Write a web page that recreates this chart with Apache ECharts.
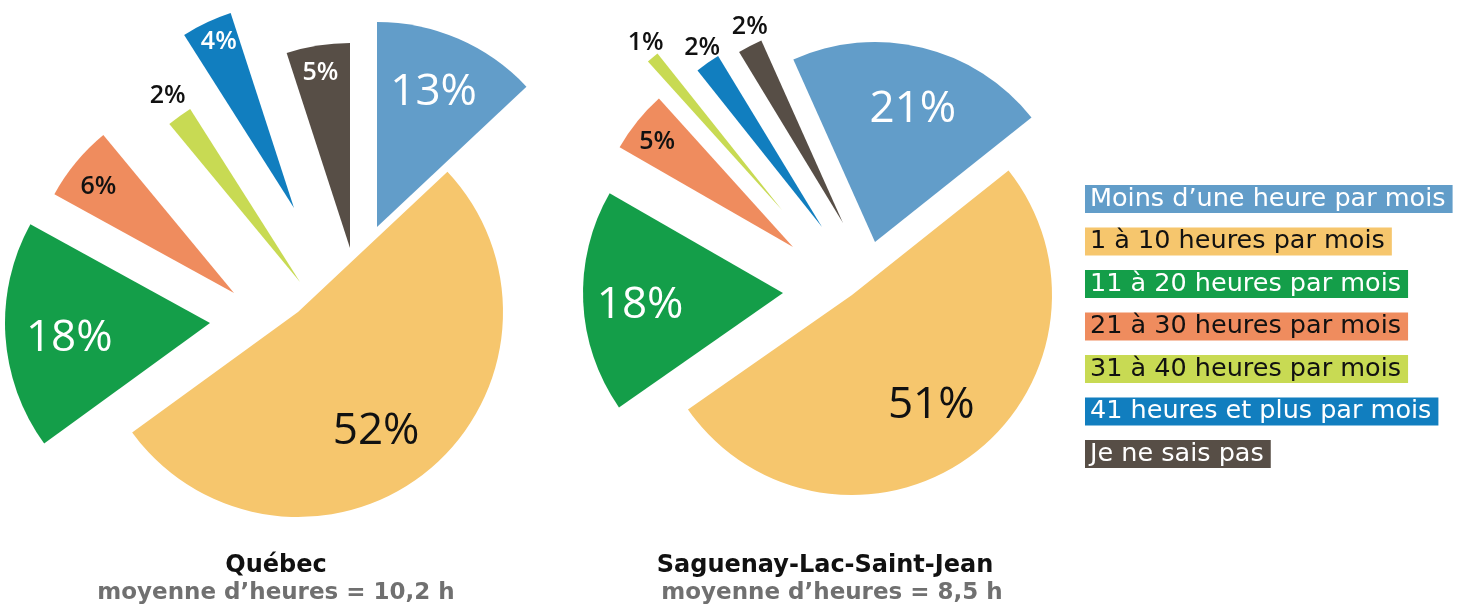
<!DOCTYPE html>
<html>
<head>
<meta charset="utf-8">
<script src="https://cdn.jsdelivr.net/npm/echarts@6/dist/echarts.min.js"></script>
<style>
  html, body { margin: 0; padding: 0; background: #ffffff; }
  #chart { width: 1474px; height: 607px; }
</style>
</head>
<body>
<div id="chart"></div>
<script>
// ---- Data ----
const categories = [
  'Moins d’une heure par mois',
  '1 à 10 heures par mois',
  '11 à 20 heures par mois',
  '21 à 30 heures par mois',
  '31 à 40 heures par mois',
  '41 heures et plus par mois',
  'Je ne sais pas'
];
const quebecValues = [13, 52, 18, 6, 2, 4, 5];
const saguenayValues = [21, 51, 18, 5, 1, 2, 2];
const regionNames = ['Québec', 'Saguenay-Lac-Saint-Jean'];
const averageTexts = ['moyenne d’heures = 10,2 h', 'moyenne d’heures = 8,5 h'];

// ---- Styles / layout ----
const FONT = '"Open Sans", "Noto Sans", sans-serif';
const TEXT_FONT = '"DejaVu Sans", sans-serif';
const colors = ['#629DC9', '#F6C66D', '#149E49', '#EF8C5E', '#C8DA53', '#117EBF', '#574E46'];
const legendTextColors = ['#ffffff', '#111111', '#ffffff', '#111111', '#111111', '#ffffff', '#ffffff'];

const pieLayouts = [
  {
    values: quebecValues,
    center: [298, 312],
    radius: 205,
    startAngle: 90,
    // per-slice explode displacement (px)
    explode: [[79, -85], [0, 0], [-88, 11], [-64, -19], [2, -30], [-4, -104], [52, -64]],
    labelDist: [147, 140, 141, 173, 229, 183, 180],
    labelNudge: [[-3, 3], [-13, 9], [3, 6], [0, 6], [4, 2], [4, 2], [-1, 6]],
    labelColor: ['#fff', '#111', '#fff', '#111', '#111', '#fff', '#fff'],
    labelSize: [44, 44, 44, 25, 25, 25, 25]
  },
  {
    values: saguenayValues,
    center: [852, 295],
    radius: 200,
    startAngle: 114.1,
    explode: [[23, -53], [0, 0], [-69, -2], [-59, -48], [-70, -85], [-30, -68], [-9, -72]],
    labelDist: [140, 133, 143, 174, 217, 217, 219],
    labelNudge: [[4, 6], [-2, 1], [3, 6], [2, 6], [6, 1], [6, 1], [10, 0]],
    labelColor: ['#fff', '#111', '#fff', '#111', '#111', '#111', '#111'],
    labelSize: [44, 44, 44, 25, 25, 25, 25]
  }
];

function buildPieSeries(p, pi) {
  const total = p.values.reduce((a, b) => a + b, 0);
  let cum = 0;
  const mids = p.values.map(v => {
    const m = (90 - p.startAngle) + 360 * (cum + v / 2) / total; // compass degrees
    cum += v;
    return m;
  });
  return p.values.map((v, i) => ({
    type: 'pie',
    name: regionNames[pi] + ' ' + i,
    center: [p.center[0] + p.explode[i][0], p.center[1] + p.explode[i][1]],
    radius: [0, p.radius],
    startAngle: p.startAngle,
    clockwise: true,
    avoidLabelOverlap: false,
    silent: true,
    animation: false,
    labelLine: { show: false },
    emphasis: { disabled: true },
    data: p.values.map((val, j) => ({
      name: categories[j],
      value: val,
      itemStyle: { color: j === i ? colors[j] : 'rgba(0,0,0,0)', borderWidth: 0 },
      label: j === i ? {
        show: true,
        position: 'inside',
        formatter: '{c}%',
        color: p.labelColor[j],
        fontSize: p.labelSize[j],
        fontFamily: FONT,
        fontWeight: p.labelSize[j] > 30 ? 'normal' : 600
      } : { show: false }
    })),
    labelLayout: function (params) {
      if (params.dataIndex !== i) return {};
      const a = mids[i] * Math.PI / 180;
      const k = p.labelDist[i] - p.radius / 2;
      return {
        dx: k * Math.sin(a) + p.labelNudge[i][0],
        dy: -k * Math.cos(a) + p.labelNudge[i][1]
      };
    }
  }));
}

const series = [].concat(buildPieSeries(pieLayouts[0], 0), buildPieSeries(pieLayouts[1], 1));

const chart = echarts.init(document.getElementById('chart'), null, { renderer: 'canvas' });
chart.setOption({
  backgroundColor: '#ffffff',
  animation: false,
  title: [
    { text: regionNames[0], left: 276, top: 554, textAlign: 'center', padding: 0,
      textStyle: { fontSize: 24, fontWeight: 'bold', color: '#111111', fontFamily: TEXT_FONT } },
    { text: averageTexts[0], left: 276, top: 582, textAlign: 'center', padding: 0,
      textStyle: { fontSize: 23, fontWeight: 'bold', color: '#707070', fontFamily: TEXT_FONT } },
    { text: regionNames[1], left: 825, top: 554, textAlign: 'center', padding: 0,
      textStyle: { fontSize: 24, fontWeight: 'bold', color: '#111111', fontFamily: TEXT_FONT } },
    { text: averageTexts[1], left: 832, top: 582, textAlign: 'center', padding: 0,
      textStyle: { fontSize: 23, fontWeight: 'bold', color: '#707070', fontFamily: TEXT_FONT } }
  ],
  legend: {
    orient: 'vertical',
    left: 1080,
    top: 185,
    padding: 0,
    itemGap: 14.5,
    itemWidth: 0,
    itemHeight: 0,
    selectedMode: false,
    data: categories.map((c, j) => ({
      name: c,
      icon: 'rect',
      textStyle: {
        color: legendTextColors[j],
        backgroundColor: colors[j],
        fontSize: 25.5,
        fontFamily: TEXT_FONT,
        lineHeight: 28,
        padding: [0, 7, 0, 5]
      }
    }))
  },
  series: series
});
</script>
</body>
</html>
